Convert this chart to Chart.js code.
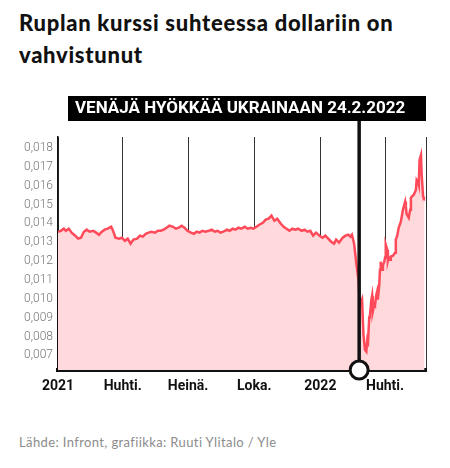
<!DOCTYPE html>
<html lang="fi">
<head>
<meta charset="UTF-8">
<title>Ruplan kurssi</title>
<script src="https://cdnjs.cloudflare.com/ajax/libs/Chart.js/4.4.1/chart.umd.min.js"></script>
<style>
  body { margin: 0; background: #fff; width: 450px; height: 468px; position: relative; overflow: hidden; }
  h1 {
    position: absolute; left: 19px; top: 7px; margin: 0; width: 430px;
    font-family: Lato, sans-serif; font-weight: 900; font-size: 22px; line-height: 32px;
    letter-spacing: 0.7px; color: #111;
  }
  #wrap { position: absolute; left: 0; top: 90px; width: 450px; height: 320px; }
  .source {
    position: absolute; left: 19px; top: 434px; margin: 0;
    font-family: Lato, sans-serif; font-size: 13px; letter-spacing: 0.38px; color: #8c8c8c;
  }
</style>
</head>
<body>
<h1>Ruplan kurssi suhteessa dollariin on vahvistunut</h1>
<div id="wrap"><canvas id="chart" width="450" height="320"></canvas></div>
<p class="source">Lähde: Infront, grafiikka: Ruuti Ylitalo / Yle</p>

<script>
// days since 1.1.2021 and RUB/USD rate
const startDate = '2021-01-01';
const days = [0, 4, 8, 11, 15, 19, 24, 28, 32, 36, 40, 44, 49, 53, 57, 61, 65, 69, 74, 76,
  80, 85, 89, 93, 97, 101, 105, 110, 114, 118, 122, 126, 130, 135, 139, 143, 147, 151, 155, 160,
  164, 168, 172, 176, 180, 185, 189, 193, 197, 201, 205, 210, 214, 218, 222, 226, 230, 235, 239, 243,
  247, 251, 255, 260, 264, 268, 272, 276, 280, 285, 289, 293, 297, 301, 305, 310, 314, 318, 322, 326,
  330, 334, 339, 343, 347, 351, 355, 359, 364, 368, 372, 376, 380, 384, 387, 391, 396, 400, 404, 407,
  409, 412, 414, 415, 418, 420, 423, 425, 427, 429, 430, 431, 433, 434, 436, 437, 438, 440, 441, 443,
  444, 445, 447, 448, 449, 451, 452, 454, 455, 456, 458, 459, 460, 462, 463, 466, 469, 470, 472, 474,
  477, 480, 483, 484, 485, 488, 490, 491, 492, 495, 498, 499, 501, 502, 503, 505, 506, 508, 509, 510];
const rates = [0.01356, 0.01361, 0.01372, 0.01361, 0.01372, 0.01351, 0.01335, 0.01319, 0.01324, 0.01356,
  0.01367, 0.01356, 0.01361, 0.01351, 0.01340, 0.01356, 0.01367, 0.01372, 0.01382, 0.01367,
  0.01324, 0.01319, 0.01324, 0.01308, 0.01319, 0.01293, 0.01314, 0.01319, 0.01335, 0.01330,
  0.01345, 0.01351, 0.01356, 0.01351, 0.01361, 0.01361, 0.01367, 0.01377, 0.01388, 0.01382,
  0.01372, 0.01377, 0.01388, 0.01377, 0.01361, 0.01351, 0.01345, 0.01356, 0.01351, 0.01361,
  0.01356, 0.01361, 0.01367, 0.01356, 0.01361, 0.01351, 0.01356, 0.01367, 0.01361, 0.01372,
  0.01367, 0.01377, 0.01372, 0.01382, 0.01372, 0.01377, 0.01372, 0.01382, 0.01393, 0.01403,
  0.01420, 0.01425, 0.01441, 0.01414, 0.01425, 0.01398, 0.01382, 0.01372, 0.01361, 0.01372,
  0.01367, 0.01372, 0.01361, 0.01367, 0.01356, 0.01361, 0.01335, 0.01351, 0.01335, 0.01324,
  0.01335, 0.01319, 0.01303, 0.01293, 0.01314, 0.01298, 0.01324, 0.01335, 0.01340, 0.01330,
  0.01340, 0.01293, 0.01224, 0.01190, 0.01102, 0.00965, 0.00996, 0.00811, 0.00732, 0.00721,
  0.00769, 0.00748, 0.00901, 0.00912, 0.00996, 0.01017, 0.00933, 0.00970, 0.00965, 0.01023,
  0.01039, 0.00996, 0.01076, 0.01155, 0.01197, 0.01155, 0.01176, 0.01197, 0.01219, 0.01287,
  0.01261, 0.01203, 0.01219, 0.01208, 0.01224, 0.01229, 0.01245, 0.01314, 0.01335, 0.01377,
  0.01409, 0.01473, 0.01515, 0.01489, 0.01451, 0.01430, 0.01473, 0.01536, 0.01541, 0.01552,
  0.01578, 0.01631, 0.01620, 0.01605, 0.01737, 0.01763, 0.01658, 0.01541, 0.01536, 0.01541];

const tickDates = ['2021-01-01', '2021-04-01', '2021-07-01', '2021-10-01', '2022-01-01', '2022-04-01'];
const tickLabels = ['2021', 'Huhti.', 'Heinä.', 'Loka.', '2022', 'Huhti.'];
const yTicks = [0.007, 0.008, 0.009, 0.010, 0.011, 0.012, 0.013, 0.014, 0.015, 0.016, 0.017, 0.018];
const endDate = '2022-05-28';
const eventDate = '2022-02-24';
const eventText = 'VENÄJÄ HYÖKKÄÄ UKRAINAAN 24.2.2022';

function dayOf(s) {
  return Math.round((Date.parse(s) - Date.parse(startDate)) / 86400000);
}

const tickDays = tickDates.map(dayOf);
const xMax = dayOf(endDate);
const eventDay = dayOf(eventDate);

const points = days.map((d, i) => ({ x: d, y: rates[i] }));

// event line, banner and circle on top of everything
const eventPlugin = {
  id: 'eventLine',
  afterDraw(chart) {
    const ctx = chart.ctx;
    const area = chart.chartArea;
    const x = chart.scales.x.getPixelForValue(eventDay);
    ctx.save();
    ctx.fillStyle = '#000';
    ctx.fillRect(68, 6, area.right - 68, 25);
    ctx.fillStyle = '#fff';
    ctx.font = 'bold 17px Roboto';
    ctx.textBaseline = 'middle';
    ctx.fillText(eventText, 75, 19);

    ctx.strokeStyle = '#111';
    ctx.lineWidth = 3.5;
    ctx.beginPath();
    ctx.moveTo(x, 31);
    ctx.lineTo(x, area.bottom);
    ctx.stroke();

    ctx.beginPath();
    ctx.arc(x, area.bottom, 9, 0, Math.PI * 2);
    ctx.fillStyle = '#fff';
    ctx.fill();
    ctx.lineWidth = 3;
    ctx.stroke();
    ctx.restore();
  }
};

new Chart(document.getElementById('chart'), {
  type: 'line',
  data: {
    datasets: [{
      data: points,
      borderColor: '#ff4a5a',
      backgroundColor: '#ffd9dc',
      borderWidth: 2.5,
      pointRadius: 0,
      tension: 0,
      fill: 'start'
    }]
  },
  options: {
    responsive: false,
    animation: false,
    devicePixelRatio: 1,
    layout: { padding: { left: 0, right: 24, top: 47, bottom: 0 } },
    plugins: { legend: { display: false }, tooltip: { enabled: false } },
    scales: {
      x: {
        type: 'linear',
        min: 0,
        max: xMax,
        z: 1,
        afterFit(scale) { scale.height = 40; },
        afterBuildTicks(scale) {
          scale.ticks = tickDays.map(v => ({ value: v })).concat([{ value: xMax }]);
        },
        grid: { color: '#333', lineWidth: 1, drawTicks: false },
        border: { color: '#111', width: 4 },
        ticks: {
          padding: 8,
          maxRotation: 0,
          autoSkip: false,
          color: '#111',
          font: { family: 'Roboto', weight: 'bold', size: 14 },
          callback: (v, i) => tickLabels[i] || ''
        }
      },
      y: {
        min: 0.00623,
        max: 0.01858,
        afterFit(scale) { scale.width = 58; },
        afterBuildTicks(scale) {
          scale.ticks = yTicks.map(v => ({ value: v }));
        },
        grid: { drawOnChartArea: false, drawTicks: false },
        border: { color: '#111', width: 1.5 },
        ticks: {
          padding: 5,
          color: '#777',
          font: { family: 'Roboto', weight: '300', size: 12 },
          callback: v => v.toFixed(3).replace('.', ',')
        }
      }
    }
  },
  plugins: [eventPlugin]
});
</script>
</body>
</html>
